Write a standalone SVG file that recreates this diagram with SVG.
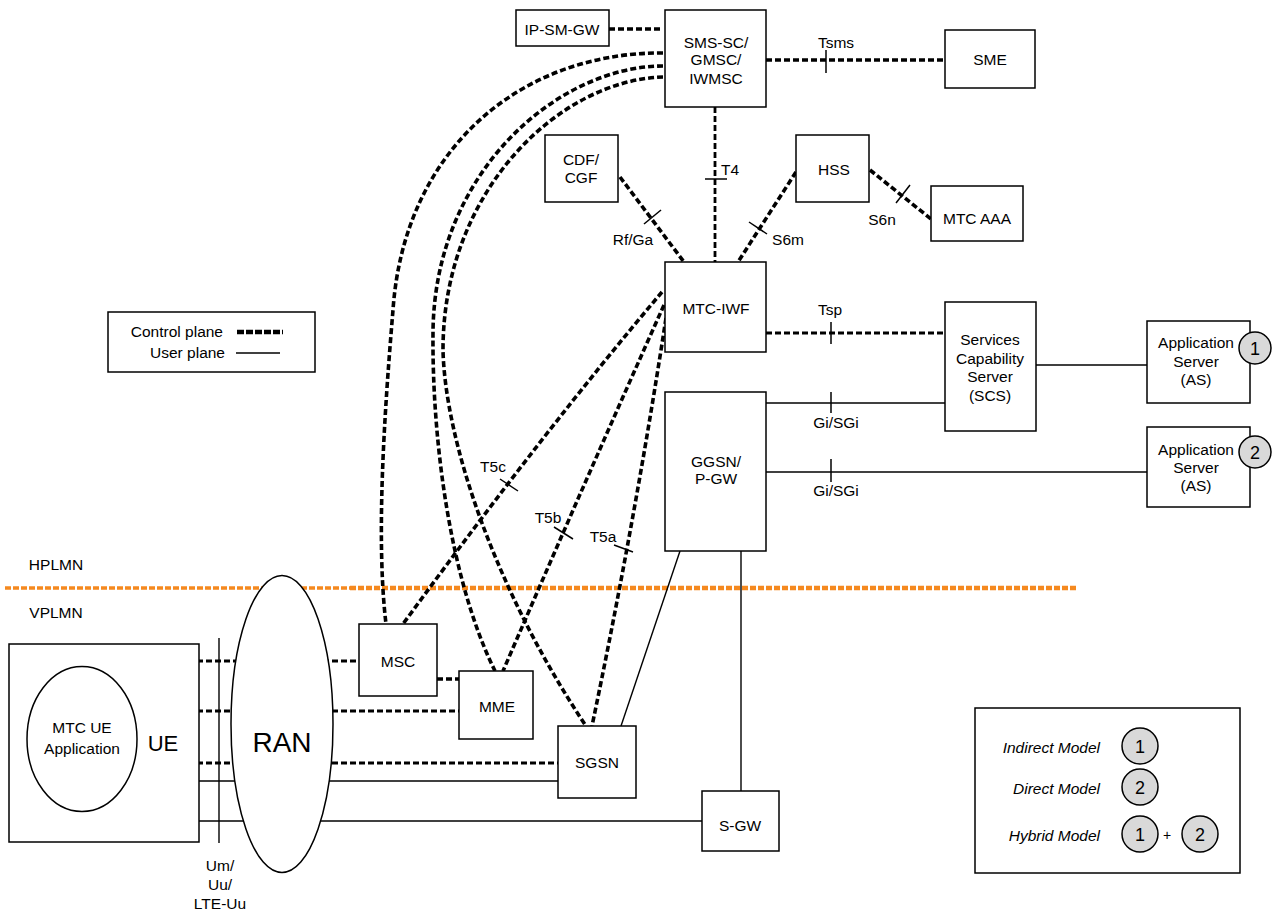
<svg xmlns="http://www.w3.org/2000/svg" width="1277" height="911" viewBox="0 0 1277 911">
<defs>
<style>
text{font-family:"Liberation Sans",Arial,Helvetica,sans-serif;font-size:15.5px;fill:#000}
.c{text-anchor:middle}
.e{text-anchor:end}
.i{font-style:italic}
.box{fill:#fff;stroke:#000;stroke-width:1.5}
.cp{fill:none;stroke:#000;stroke-width:3.6;stroke-dasharray:6 3}
.cpt{fill:none;stroke:#000;stroke-width:2.8;stroke-dasharray:6 3}
.up{fill:none;stroke:#000;stroke-width:1.4}
.tick{stroke:#000;stroke-width:1.5}
.badge{fill:#d9d9d9;stroke:#000;stroke-width:1.5}
.bn{font-size:18px}
.org{fill:none;stroke:#F5891F;stroke-dasharray:6 2}
</style>
</defs>
<rect width="1277" height="911" fill="#fff"/>

<g id="plmn-boundary">
<line class="org" x1="5" y1="588" x2="350" y2="588" stroke-width="3.5"/>
<line class="org" x1="350" y1="588" x2="1078" y2="588" stroke-width="4.5"/>
<text x="56" y="570" class="c">HPLMN</text>
<text x="56" y="617.5" class="c">VPLMN</text>
</g>

<g id="connectors">
<!-- SMS-SC curves -->
<path class="cp" d="M663,53 C520,52 404,150 393,310 C384,417 376,540 386,624"/>
<path class="cp" d="M663,66 C560,66 434,170 433,333 C432,440 450,580 495,671"/>
<path class="cp" d="M663,77 C560,80 443,190 443,350 C445,440 495,590 586,726"/>
<!-- T5 -->
<path class="cp" d="M662,292 Q545,430 403,624"/>
<path class="cp" d="M664,305 Q590,470 503,671"/>
<path class="cp" d="M666,318 Q635,520 592,726"/>
<line class="tick" x1="500" y1="479" x2="518" y2="491"/>
<line class="tick" x1="554" y1="527" x2="573" y2="539"/>
<line class="tick" x1="614" y1="545" x2="633" y2="552"/>
<text x="493" y="471.5" class="c">T5c</text>
<text x="548" y="522.5" class="c">T5b</text>
<text x="603" y="541.5" class="c">T5a</text>
<!-- IP-SM-GW -->
<line class="cp" x1="609" y1="29" x2="663" y2="29"/>
<!-- Tsms -->
<line class="cp" x1="766" y1="60" x2="945" y2="60"/>
<line class="tick" x1="826" y1="50" x2="826" y2="73"/>
<text x="836" y="47.5" class="c">Tsms</text>
<!-- T4 -->
<line class="cpt" x1="715" y1="107" x2="715" y2="262"/>
<line class="tick" x1="705" y1="179" x2="727" y2="179"/>
<text x="730" y="174.5" class="c">T4</text>
<!-- Rf/Ga -->
<line class="cp" x1="620" y1="177" x2="684" y2="262"/>
<line class="tick" x1="644" y1="224" x2="661" y2="210"/>
<text x="633" y="244.5" class="c">Rf/Ga</text>
<!-- S6m -->
<line class="cp" x1="796" y1="172" x2="738" y2="262"/>
<line class="tick" x1="749" y1="222" x2="767" y2="234"/>
<text x="788" y="244.5" class="c">S6m</text>
<!-- S6n -->
<line class="cp" x1="870" y1="170" x2="931" y2="219"/>
<line class="tick" x1="896" y1="203" x2="910" y2="185"/>
<text x="882" y="224.5" class="c">S6n</text>
<!-- Tsp -->
<line class="cpt" x1="766" y1="333" x2="945" y2="333"/>
<line class="tick" x1="831" y1="322" x2="831" y2="344"/>
<text x="830" y="314.5" class="c">Tsp</text>
<!-- Gi/SGi -->
<line class="up" x1="766" y1="403" x2="945" y2="403"/>
<line class="tick" x1="831" y1="392" x2="831" y2="413"/>
<text x="836" y="428" class="c">Gi/SGi</text>
<line class="up" x1="766" y1="472" x2="1147" y2="472"/>
<line class="tick" x1="831" y1="459" x2="831" y2="482"/>
<text x="836" y="495.5" class="c">Gi/SGi</text>
<line class="up" x1="1036" y1="365" x2="1147" y2="365"/>
<!-- GGSN links -->
<line class="up" x1="621" y1="726" x2="680" y2="551"/>
<line class="up" x1="741" y1="791" x2="741" y2="551"/>
<!-- UE side -->
<line class="cpt" x1="197" y1="661" x2="359" y2="661"/>
<line class="cpt" x1="197" y1="711" x2="459" y2="711"/>
<line class="cpt" x1="197" y1="763" x2="558" y2="763"/>
<line class="up" x1="199" y1="781" x2="558" y2="781"/>
<line class="up" x1="199" y1="821" x2="702" y2="821"/>
<line class="cp" x1="437" y1="679" x2="459" y2="679"/>
</g>

<g id="RAN">
<ellipse cx="282" cy="724" rx="51" ry="148.5" class="box"/>
<text x="282" y="752" class="c" style="font-size:28px">RAN</text>
</g>

<g id="Um-Uu-interface">
<line class="up" x1="219" y1="638" x2="219" y2="843"/>
<text x="220" y="870.5" class="c">Um/</text>
<text x="220" y="890" class="c">Uu/</text>
<text x="220" y="908.5" class="c">LTE-Uu</text>
</g>

<g id="UE">
<rect x="9" y="644" width="190" height="198" class="box"/>
<ellipse cx="82" cy="739" rx="55" ry="72.5" class="box"/>
<text x="82" y="732.5" class="c">MTC UE</text>
<text x="82" y="753.5" class="c">Application</text>
<text x="163" y="751" class="c" style="font-size:22px">UE</text>
</g>

<g id="IP-SM-GW">
<rect x="516" y="10" width="93" height="36" class="box"/>
<text x="562" y="34.5" class="c">IP-SM-GW</text>
</g>
<g id="SMS-SC">
<rect x="665" y="10" width="101" height="97" class="box"/>
<text x="716" y="47.5" class="c">SMS-SC/</text>
<text x="716" y="65" class="c">GMSC/</text>
<text x="716" y="83.5" class="c">IWMSC</text>
</g>
<g id="SME">
<rect x="945" y="30" width="90" height="58" class="box"/>
<text x="990" y="64.5" class="c">SME</text>
</g>
<g id="CDF-CGF">
<rect x="545" y="135" width="73" height="67" class="box"/>
<text x="581" y="164.5" class="c">CDF/</text>
<text x="581" y="182.5" class="c">CGF</text>
</g>
<g id="HSS">
<rect x="796" y="135" width="73" height="67" class="box"/>
<text x="834" y="174.5" class="c">HSS</text>
</g>
<g id="MTC-AAA">
<rect x="931" y="186" width="92" height="55" class="box"/>
<text x="977" y="223.5" class="c">MTC AAA</text>
</g>
<g id="MTC-IWF">
<rect x="665" y="262" width="101" height="90" class="box"/>
<text x="716" y="313.5" class="c">MTC-IWF</text>
</g>
<g id="SCS">
<rect x="945" y="302" width="91" height="129" class="box"/>
<text x="990" y="345" class="c">Services</text>
<text x="990" y="363.5" class="c">Capability</text>
<text x="990" y="382" class="c">Server</text>
<text x="990" y="400.5" class="c">(SCS)</text>
</g>
<g id="AS1">
<rect x="1147" y="321" width="103" height="82" class="box"/>
<text x="1196" y="348" class="c">Application</text>
<text x="1196" y="366.5" class="c">Server</text>
<text x="1196" y="385" class="c">(AS)</text>
<circle cx="1255" cy="348" r="16" class="badge"/>
<text x="1255" y="354.5" class="c bn">1</text>
</g>
<g id="AS2">
<rect x="1147" y="427" width="103" height="80" class="box"/>
<text x="1196" y="454.5" class="c">Application</text>
<text x="1196" y="473" class="c">Server</text>
<text x="1196" y="491" class="c">(AS)</text>
<circle cx="1255" cy="452" r="16" class="badge"/>
<text x="1255" y="458.5" class="c bn">2</text>
</g>
<g id="GGSN-PGW">
<rect x="665" y="392" width="101" height="159" class="box"/>
<text x="716" y="466.5" class="c">GGSN/</text>
<text x="716" y="484" class="c">P-GW</text>
</g>
<g id="MSC">
<rect x="359" y="624" width="78" height="72" class="box"/>
<text x="398" y="666.5" class="c">MSC</text>
</g>
<g id="MME">
<rect x="459" y="671" width="74" height="68" class="box"/>
<text x="497" y="711.5" class="c">MME</text>
</g>
<g id="SGSN">
<rect x="558" y="726" width="78" height="72" class="box"/>
<text x="597" y="767.5" class="c">SGSN</text>
</g>
<g id="S-GW">
<rect x="702" y="791" width="77" height="60" class="box"/>
<text x="740" y="830.5" class="c">S-GW</text>
</g>

<g id="legend-planes">
<rect x="108" y="312" width="207" height="60" class="box"/>
<text x="223" y="336.5" class="e">Control plane</text>
<line x1="237" y1="332" x2="283" y2="332" stroke="#000" stroke-width="4.5" stroke-dasharray="7 2"/>
<text x="225" y="358" class="e">User plane</text>
<line x1="236" y1="353" x2="280" y2="353" stroke="#000" stroke-width="1.4"/>
</g>

<g id="legend-models">
<rect x="975" y="708" width="265" height="165" class="box"/>
<text x="1100" y="752.5" class="e i">Indirect Model</text>
<circle cx="1140" cy="746" r="18" class="badge"/>
<text x="1140" y="752.5" class="c bn">1</text>
<text x="1100" y="793.5" class="e i">Direct Model</text>
<circle cx="1140" cy="787" r="18" class="badge"/>
<text x="1140" y="793.5" class="c bn">2</text>
<text x="1100" y="840.5" class="e i">Hybrid Model</text>
<circle cx="1140" cy="834" r="18" class="badge"/>
<text x="1140" y="840.5" class="c bn">1</text>
<text x="1167" y="840" class="c" style="font-size:14px">+</text>
<circle cx="1200" cy="834" r="18" class="badge"/>
<text x="1200" y="840.5" class="c bn">2</text>
</g>
</svg>
